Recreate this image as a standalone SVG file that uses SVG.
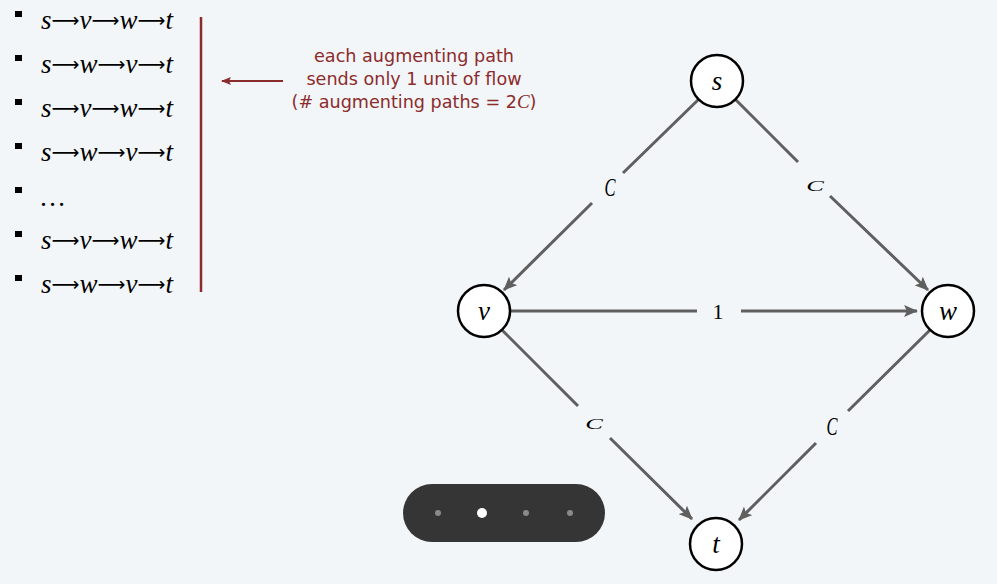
<svg xmlns="http://www.w3.org/2000/svg" width="997" height="584" viewBox="0 0 997 584">
<style>
.bg{fill:#f3f6f9}
.node circle{fill:#fff;stroke:#000;stroke-width:2.5}
.node text{font-family:"Liberation Serif",serif;font-style:italic;font-size:27px;text-anchor:middle}
.edge{stroke:#5f5f5f;stroke-width:3;fill:none}
.lbl{font-family:"Liberation Serif",serif;font-size:22px;text-anchor:middle}
.cap{font-family:"Liberation Serif",serif;font-style:italic;font-size:22px;text-anchor:middle}
.path{font-family:"Liberation Serif",serif;font-style:italic;font-size:27px}
.ar{font-family:"DejaVu Sans",sans-serif;font-style:normal;font-size:19.5px}
.bul{fill:#000}
.note{font-family:"DejaVu Sans",sans-serif;font-size:17.6px;fill:#8c2b2b;text-anchor:middle}
</style>
<defs>
<marker id="ah" markerUnits="userSpaceOnUse" markerWidth="14" markerHeight="12" viewBox="0 0 14 12" refX="13" refY="6" orient="auto">
<path d="M0,0 L14,6 L0,12 L3,6 Z" fill="#5f5f5f"/>
</marker>
<marker id="rh" markerUnits="userSpaceOnUse" markerWidth="10" markerHeight="8" viewBox="0 0 10 8" refX="9" refY="4" orient="auto">
<path d="M0,0 L10,4 L0,8 L2,4 Z" fill="#8c2b2b"/>
</marker>
</defs>
<rect class="bg" x="0" y="0" width="997" height="584"/>

<g id="list">
<rect class="bul" x="15" y="11" width="7" height="6"/>
<text class="path" x="41" y="29">s<tspan class="ar" dy="-2">⟶</tspan><tspan dy="2">v</tspan><tspan class="ar" dy="-2">⟶</tspan><tspan dy="2">w</tspan><tspan class="ar" dy="-2">⟶</tspan><tspan dy="2">t</tspan></text>
<rect class="bul" x="15" y="55" width="7" height="6"/>
<text class="path" x="41" y="73">s<tspan class="ar" dy="-2">⟶</tspan><tspan dy="2">w</tspan><tspan class="ar" dy="-2">⟶</tspan><tspan dy="2">v</tspan><tspan class="ar" dy="-2">⟶</tspan><tspan dy="2">t</tspan></text>
<rect class="bul" x="15" y="99" width="7" height="6"/>
<text class="path" x="41" y="117">s<tspan class="ar" dy="-2">⟶</tspan><tspan dy="2">v</tspan><tspan class="ar" dy="-2">⟶</tspan><tspan dy="2">w</tspan><tspan class="ar" dy="-2">⟶</tspan><tspan dy="2">t</tspan></text>
<rect class="bul" x="15" y="143" width="7" height="6"/>
<text class="path" x="41" y="161">s<tspan class="ar" dy="-2">⟶</tspan><tspan dy="2">w</tspan><tspan class="ar" dy="-2">⟶</tspan><tspan dy="2">v</tspan><tspan class="ar" dy="-2">⟶</tspan><tspan dy="2">t</tspan></text>
<rect class="bul" x="15" y="187" width="7" height="6"/>
<text class="path" x="41" y="206">…</text>
<rect class="bul" x="15" y="231" width="7" height="6"/>
<text class="path" x="41" y="249">s<tspan class="ar" dy="-2">⟶</tspan><tspan dy="2">v</tspan><tspan class="ar" dy="-2">⟶</tspan><tspan dy="2">w</tspan><tspan class="ar" dy="-2">⟶</tspan><tspan dy="2">t</tspan></text>
<rect class="bul" x="15" y="275" width="7" height="6"/>
<text class="path" x="41" y="293">s<tspan class="ar" dy="-2">⟶</tspan><tspan dy="2">w</tspan><tspan class="ar" dy="-2">⟶</tspan><tspan dy="2">v</tspan><tspan class="ar" dy="-2">⟶</tspan><tspan dy="2">t</tspan></text>
</g>

<g id="annotation">
<line x1="201" y1="17" x2="201" y2="292" stroke="#8c2b2b" stroke-width="2.5"/>
<line x1="283" y1="81" x2="222" y2="81" stroke="#8c2b2b" stroke-width="2" marker-end="url(#rh)"/>
<text class="note" x="414" y="62">each augmenting path</text>
<text class="note" x="414" y="85">sends only 1 unit of flow</text>
<text class="note" x="414" y="108">(# augmenting paths = 2<tspan font-family="Liberation Serif,serif" font-style="italic" font-size="19px">C</tspan>)</text>
</g>

<g id="connectors">
<line class="edge" x1="698.5" y1="99.5" x2="623" y2="173"/>
<line class="edge" x1="592" y1="203" x2="504" y2="290" marker-end="url(#ah)"/>
<line class="edge" x1="735.5" y1="99.5" x2="798" y2="162"/>
<line class="edge" x1="830" y1="196" x2="928" y2="290" marker-end="url(#ah)"/>
<line class="edge" x1="510" y1="311" x2="697" y2="311"/>
<line class="edge" x1="741" y1="311" x2="917" y2="311" marker-end="url(#ah)"/>
<line class="edge" x1="502.5" y1="330.5" x2="578" y2="406"/>
<line class="edge" x1="610" y1="438" x2="692" y2="519" marker-end="url(#ah)"/>
<line class="edge" x1="929.5" y1="330.5" x2="848" y2="411"/>
<line class="edge" x1="816" y1="443" x2="739" y2="520" marker-end="url(#ah)"/>
<text class="cap" transform="translate(610,196) scale(0.75,1.1)">C</text>
<text class="cap" transform="translate(815,191) scale(1.2,0.7)">C</text>
<text class="cap" transform="translate(594,429) scale(1.2,0.7)">C</text>
<text class="cap" transform="translate(832,435) scale(0.75,1.1)">C</text>
<text class="lbl" x="718" y="319">1</text>
</g>

<g id="node-s" class="node"><circle cx="717" cy="81" r="26"/><text x="717" y="90">s</text></g>
<g id="node-v" class="node"><circle cx="484" cy="311" r="26"/><text x="484" y="320">v</text></g>
<g id="node-w" class="node"><circle cx="948" cy="311" r="26"/><text x="948" y="320">w</text></g>
<g id="node-t" class="node"><circle cx="716" cy="544" r="26"/><text x="716" y="553">t</text></g>

<g id="pager">
<rect x="403" y="484" width="202" height="58" rx="29" fill="#353535"/>
<circle cx="438" cy="513" r="3" fill="#8a8a8a"/>
<circle cx="482" cy="513" r="5" fill="#fff"/>
<circle cx="526" cy="513" r="3" fill="#8a8a8a"/>
<circle cx="570" cy="513" r="3" fill="#8a8a8a"/>
</g>
</svg>
